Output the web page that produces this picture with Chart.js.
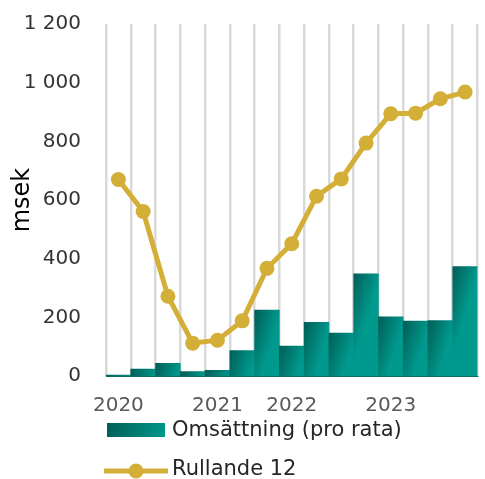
<!DOCTYPE html>
<html>
<head>
<meta charset="utf-8">
<script src="https://cdn.jsdelivr.net/npm/chart.js@4/dist/chart.umd.min.js"></script>
<style>
  html, body { margin: 0; padding: 0; background: #fff; }
  #wrap { width: 485px; height: 479px; position: relative; }
</style>
</head>
<body>
<div id="wrap"><canvas id="chart" width="485" height="479"></canvas></div>
<script>
// quarterly values, msek
const tickLabels = ['2020', '', '', '', '2021', '', '', '2022', '', '', '', '2023', '', '', ''];
const omsattning = [3, 24, 43, 15, 19, 87, 225, 102, 183, 146, 348, 202, 187, 189, 373];
const rullande12 = [670, 561, 272, 112, 122, 188, 367, 451, 613, 672, 794, 894, 896, 945, 968];
const seriesNames = ['Omsättning (pro rata)', 'Rullande 12'];

const FONT = 'DejaVu Sans';
const TEAL_DARK = '#005e57';
const TEAL_LIGHT = '#00998d';
const GOLD = '#d4af37';

function barGradient(ctx, x0, x1, y) {
    const g = ctx.createLinearGradient(x0, y, x1, y + (x1 - x0) * 0.3);
    g.addColorStop(0, TEAL_DARK);
    g.addColorStop(1, TEAL_LIGHT);
    return g;
}

// legend drawn under the axis, one row per series
const legendPlugin = {
    id: 'stackLegend',
    afterDraw(chart) {
        const ctx = chart.ctx;
        ctx.save();
        ctx.font = '21px "' + FONT + '"';
        ctx.textBaseline = 'middle';
        ctx.textAlign = 'left';

        ctx.fillStyle = barGradient(ctx, 107, 165, 423);
        ctx.fillRect(107, 423, 58, 14);
        ctx.fillStyle = '#262626';
        ctx.fillText(seriesNames[0], 172, 431);

        ctx.strokeStyle = GOLD;
        ctx.lineWidth = 5;
        ctx.beginPath();
        ctx.moveTo(104, 471);
        ctx.lineTo(168, 471);
        ctx.stroke();
        ctx.fillStyle = GOLD;
        ctx.beginPath();
        ctx.arc(136, 471, 7.5, 0, Math.PI * 2);
        ctx.fill();
        ctx.fillStyle = '#262626';
        ctx.fillText(seriesNames[1], 172, 470);
        ctx.restore();
    }
};

new Chart(document.getElementById('chart'), {
    type: 'bar',
    data: {
        labels: tickLabels,
        datasets: [{
            type: 'line',
            label: seriesNames[1],
            data: rullande12,
            borderColor: GOLD,
            backgroundColor: GOLD,
            borderWidth: 5,
            pointRadius: 7.5,
            pointHoverRadius: 7.5,
            pointBorderWidth: 0,
            tension: 0,
            order: 0
        }, {
            type: 'bar',
            label: seriesNames[0],
            data: omsattning,
            barPercentage: 1,
            categoryPercentage: 1,
            borderWidth: 0,
            order: 1,
            backgroundColor: (c) => {
                const chart = c.chart;
                if (!chart.chartArea || c.type !== 'data') return TEAL_DARK;
                const xs = chart.scales.x, ys = chart.scales.y;
                const w = xs.width / tickLabels.length;
                const cx = xs.getPixelForValue(c.dataIndex);
                const top = ys.getPixelForValue(c.raw);
                return barGradient(chart.ctx, cx - w / 2, cx + w / 2, top);
            }
        }]
    },
    options: {
        responsive: false,
        animation: false,
        layout: { padding: { top: 24, right: 2, left: 0, bottom: 0 } },
        plugins: {
            legend: { display: false },
            tooltip: { enabled: false }
        },
        scales: {
            x: {
                grid: { offset: true, color: '#d9d9d9', lineWidth: 2.5, drawTicks: false },
                border: { display: true, color: '#0b6b63', width: 1 },
                ticks: {
                    autoSkip: false, maxRotation: 0, padding: 18,
                    color: '#595959',
                    font: { family: FONT, size: 20 }
                },
                afterFit: (s) => { s.height = 103; }
            },
            y: {
                min: 0,
                max: 1200,
                // tick marks are hidden; their length only spaces the labels off the plot
                grid: { display: false, drawTicks: true, tickLength: 22 },
                border: { display: false },
                ticks: {
                    stepSize: 200,
                    padding: 3,
                    color: '#333333',
                    font: { family: FONT, size: 20 },
                    callback: (v) => String(v).replace(/\B(?=(\d{3})+(?!\d))/g, ' ')
                },
                title: {
                    display: true,
                    text: 'msek',
                    color: '#000000',
                    font: { family: FONT, size: 24 },
                    padding: { top: 8, bottom: 0 }
                },
                afterFit: (s) => { s.width = 106; }
            }
        }
    },
    plugins: [legendPlugin]
});
</script>
</body>
</html>
